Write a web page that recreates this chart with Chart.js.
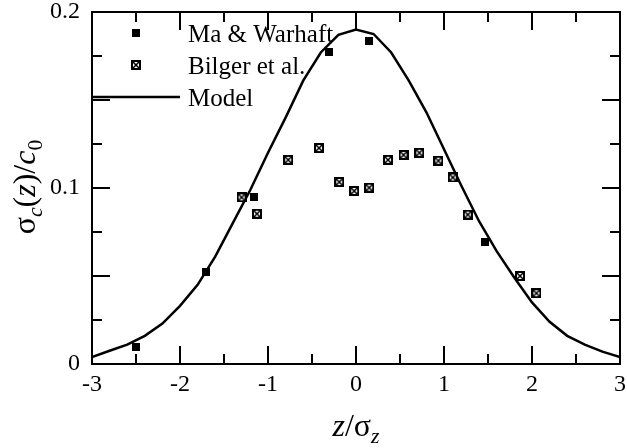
<!DOCTYPE html>
<html>
<head>
<meta charset="utf-8">
<script src="https://cdn.jsdelivr.net/npm/chart.js@4"></script>
<style>
  body { margin: 0; background: #fff; }
</style>
</head>
<body>
<canvas id="c" width="627" height="448"></canvas>
<script>
// data
const maX = [-2.5, -1.70, -1.16, -0.31, 0.15, 1.47];
const maY = [0.0098, 0.0524, 0.095, 0.1775, 0.1837, 0.0693];

const bilgerX = [-1.30, -1.125, -0.77, -0.42, -0.19, -0.02, 0.15, 0.364, 0.54, 0.72, 0.936, 1.10, 1.27, 1.864, 2.05];
const bilgerY = [0.0947, 0.0854, 0.116, 0.1227, 0.1034, 0.0983, 0.1002, 0.116, 0.1188, 0.120, 0.1155, 0.106, 0.0849, 0.050, 0.0402];

const modelX = [-3, -2.8, -2.6, -2.4, -2.2, -2, -1.8, -1.6, -1.4, -1.2, -1, -0.8, -0.6, -0.4, -0.2, 0,
                0.2, 0.4, 0.6, 0.8, 1, 1.2, 1.4, 1.6, 1.8, 2, 2.2, 2.4, 2.6, 2.8, 3];
const modelY = [0.004, 0.0075, 0.011, 0.016, 0.023, 0.033, 0.045, 0.061, 0.080, 0.099, 0.120, 0.140, 0.161, 0.177, 0.187, 0.190,
                0.1875, 0.177, 0.161, 0.143, 0.122, 0.101, 0.081, 0.064, 0.049, 0.035, 0.024, 0.016, 0.011, 0.007, 0.004];

const xTicks = [-3, -2, -1, 0, 1, 2, 3];
const yTicks = [0, 0.1, 0.2];

const legendNames = ["Ma & Warhaft", "Bilger et al.", "Model"];

const serif = "'Liberation Serif', 'Times New Roman', serif";

function pts(xs, ys) {
    return xs.map((x, i) => ({x: x, y: ys[i]}));
}

// marker images
function filledSquare() {
    const c = document.createElement("canvas");
    c.width = 8; c.height = 8;
    const g = c.getContext("2d");
    g.fillStyle = "#000";
    g.fillRect(0, 0, 8, 8);
    return c;
}
function boxedCross() {
    const c = document.createElement("canvas");
    c.width = 10; c.height = 10;
    const g = c.getContext("2d");
    g.fillStyle = "#000";
    g.fillRect(0, 0, 10, 10);
    g.fillStyle = "#fff";
    g.fillRect(2, 2, 6, 6);
    g.strokeStyle = "#000";
    g.lineWidth = 1.5;
    g.beginPath();
    g.moveTo(2, 2); g.lineTo(8, 8);
    g.moveTo(8, 2); g.lineTo(2, 8);
    g.stroke();
    return c;
}
const maImg = filledSquare();
const bilgerImg = boxedCross();

// text with italic / subscript pieces
function richWidth(ctx, parts, size) {
    let w = 0;
    parts.forEach(p => {
        const s = p.sub ? size * 0.68 : size;
        ctx.font = (p.it ? "italic " : "") + s + "px " + serif;
        w += ctx.measureText(p.t).width;
    });
    return w;
}
function drawRich(ctx, parts, cx, y, size) {
    let x = cx - richWidth(ctx, parts, size) / 2;
    ctx.textAlign = "left";
    ctx.textBaseline = "alphabetic";
    parts.forEach(p => {
        const s = p.sub ? size * 0.68 : size;
        ctx.font = (p.it ? "italic " : "") + s + "px " + serif;
        ctx.fillText(p.t, x, p.sub ? y + size * 0.22 : y);
        x += ctx.measureText(p.t).width;
    });
}

const decor = {
    id: "decor",
    afterDraw(chart) {
        const ctx = chart.ctx;
        const a = chart.chartArea;
        const xs = chart.scales.x, ys = chart.scales.y;
        ctx.save();
        ctx.strokeStyle = "#000";
        ctx.fillStyle = "#000";

        // inward ticks
        ctx.lineWidth = 2;
        ctx.beginPath();
        for (let i = 0; i <= 12; i++) {
            const v = -3 + i * 0.5;
            const len = i % 2 === 0 ? 18 : 10;
            const px = xs.getPixelForValue(v);
            ctx.moveTo(px, a.bottom); ctx.lineTo(px, a.bottom - len);
            ctx.moveTo(px, a.top); ctx.lineTo(px, a.top + len);
        }
        for (let i = 0; i <= 8; i++) {
            const v = i * 0.025;
            const len = i % 2 === 0 ? 18 : 10;
            const py = ys.getPixelForValue(v);
            ctx.moveTo(a.left, py); ctx.lineTo(a.left + len, py);
            ctx.moveTo(a.right, py); ctx.lineTo(a.right - len, py);
        }
        ctx.stroke();

        // frame
        ctx.lineWidth = 2;
        ctx.strokeRect(a.left, a.top, a.right - a.left, a.bottom - a.top);

        // legend
        ctx.drawImage(maImg, 132, 29);
        ctx.drawImage(bilgerImg, 131, 60);
        ctx.lineWidth = 2.5;
        ctx.beginPath();
        ctx.moveTo(92, 97); ctx.lineTo(180, 97);
        ctx.stroke();
        ctx.font = "25px " + serif;
        ctx.textAlign = "left";
        ctx.textBaseline = "alphabetic";
        ctx.fillText(legendNames[0], 188, 42);
        ctx.fillText(legendNames[1], 188, 74);
        ctx.fillText(legendNames[2], 188, 106);

        // axis titles
        drawRich(ctx, [{t: "z", it: true}, {t: "/σ"}, {t: "z", it: true, sub: true}], 356, 436, 32);
        ctx.translate(35, 187);
        ctx.rotate(-Math.PI / 2);
        drawRich(ctx, [{t: "σ"}, {t: "c", it: true, sub: true}, {t: "("}, {t: "z", it: true}, {t: ")/"},
                       {t: "c", it: true}, {t: "0", sub: true}], 0, 0, 32);
        ctx.restore();
    }
};

function noPad(s) {
    s.paddingTop = 0; s.paddingBottom = 0;
    s.paddingLeft = 0; s.paddingRight = 0;
}

new Chart(document.getElementById("c"), {
    type: "scatter",
    data: {
        datasets: [
            {
                label: legendNames[2],
                data: pts(modelX, modelY),
                showLine: true,
                borderColor: "#000",
                borderWidth: 2.5,
                pointRadius: 0,
                tension: 0,
                order: 3
            },
            {
                label: legendNames[0],
                data: pts(maX, maY),
                pointStyle: maImg,
                order: 1
            },
            {
                label: legendNames[1],
                data: pts(bilgerX, bilgerY),
                pointStyle: bilgerImg,
                order: 2
            }
        ]
    },
    options: {
        responsive: false,
        animation: false,
        layout: { padding: { left: 0, right: 7, top: 12, bottom: 0 } },
        plugins: { legend: { display: false }, tooltip: { enabled: false } },
        scales: {
            x: {
                type: "linear",
                min: -3, max: 3,
                afterBuildTicks(s) { s.ticks = xTicks.map(v => ({value: v})); },
                afterFit(s) { s.height = 84; noPad(s); },
                ticks: {
                    color: "#000",
                    font: { family: serif, size: 24 },
                    padding: 6,
                    maxRotation: 0,
                    callback: v => String(v)
                },
                grid: { display: false, drawTicks: false },
                border: { display: false }
            },
            y: {
                min: 0, max: 0.2,
                afterBuildTicks(s) { s.ticks = yTicks.map(v => ({value: v})); },
                afterFit(s) { s.width = 92; noPad(s); },
                ticks: {
                    color: "#000",
                    font: { family: serif, size: 24 },
                    padding: 12,
                    callback: v => String(+v.toFixed(2))
                },
                grid: { display: false, drawTicks: false },
                border: { display: false }
            }
        }
    },
    plugins: [decor]
});
</script>
</body>
</html>
